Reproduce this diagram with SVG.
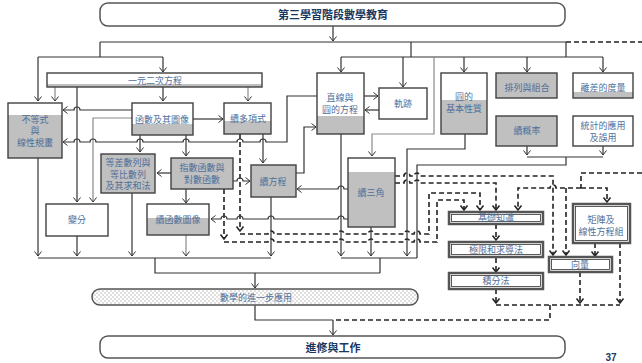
<svg xmlns="http://www.w3.org/2000/svg" width="642" height="363" viewBox="0 0 642 363">
<defs>
<marker id="a" viewBox="-6 -5 7 10" refX="0" refY="0" markerWidth="7" markerHeight="10" markerUnits="userSpaceOnUse" orient="auto"><path d="M-4.5,-3.5 L0,0 L-4.5,3.5" fill="none" stroke="#333" stroke-width="1"/></marker>
<marker id="ad" viewBox="-6 -5 7 10" refX="0" refY="0" markerWidth="7" markerHeight="10" markerUnits="userSpaceOnUse" orient="auto"><path d="M-4.5,-3.5 L0,0 L-4.5,3.5" fill="none" stroke="#222" stroke-width="1.5"/></marker>
<pattern id="dots" width="4" height="4" patternUnits="userSpaceOnUse"><rect width="4" height="4" fill="#fff"/><circle cx="1" cy="1" r="0.7" fill="#aaa"/><circle cx="3" cy="3" r="0.7" fill="#aaa"/></pattern>
</defs>
<style>
.bx{fill:none;stroke:#404040;stroke-width:1.4}
.w{fill:#fff}
.g{fill:#c0c0c0}
.t{font-family:"Liberation Sans","Noto Sans CJK TC",sans-serif;font-size:9px;fill:#4f6f9a;text-anchor:middle}
.h{font-family:"Liberation Sans","Noto Sans CJK TC",sans-serif;font-size:11px;font-weight:bold;fill:#17375e;text-anchor:middle}
.c path{fill:none;stroke:#333;stroke-width:1.2}
.c path.gr{stroke:#8a8a8a}
.c path.d{stroke:#222;stroke-width:1.6;stroke-dasharray:5 3}
.c path.m{marker-end:url(#a)}
.c path.d.m{marker-end:url(#ad)}
.o{fill:#fff;stroke:#555;stroke-width:2.5}
.i{fill:none;stroke:#333;stroke-width:0.8}
</style>

<g id="connectors" class="c">
<path class="m" d="M333,26 V41"/>
<path d="M100,42 H566"/>
<path class="d" d="M566,42 H642"/>
<path d="M100,42 V57 M38,57 H163"/>
<path class="m" d="M38,57 V101"/>
<path class="m" d="M163,57 V72"/>
<path d="M411,42 V57 M566,42 V57 M341,57 H603"/>
<path class="m" d="M341,57 V72"/>
<path class="m" d="M403,57 V87"/>
<path class="m" d="M464,57 V72"/>
<path class="m" d="M527,57 V72"/>
<path class="m" d="M603,57 V72"/>
<path class="m gr" d="M434,57 V134 H372 V156"/>
<path class="m gr" d="M55,87 V101"/>
<path class="m" d="M77,87 V202"/>
<path class="m" d="M163,87 V101"/>
<path class="m gr" d="M248,87 V101"/>
<path class="m" d="M132,110 H80 a3,3 0 0 0 -6,0 H63"/>
<path class="m gr" d="M132,118 H93 V202"/>
<path class="m" d="M193,119 H223"/>
<path class="m" d="M140,135 V152"/>
<path class="m" d="M186,135 V156"/>
<path class="m" d="M317,96 H287 V142 H266 a3,3 0 0 0 -6,0 H243 a3,3 0 0 0 -6,0 H189 a3,3 0 0 0 -6,0 H143 a3,3 0 0 0 -6,0 H96 a3,3 0 0 0 -6,0 H80 a3,3 0 0 0 -6,0 H63"/>
<path class="m" d="M364,96 H378"/>
<path class="m" d="M379,110 H365"/>
<path class="m" d="M296,173 H304 V127 H316"/>
<path class="m" d="M263,134 V163"/>
<path class="d m" d="M240,134 V231"/>
<path class="d m" d="M224,189 V239"/>
<path class="d m" d="M240,234 H268 a3,3 0 0 1 6,0 H338 a3,3 0 0 1 6,0 H368 a3,3 0 0 1 6,0 H404 a3,3 0 0 1 6,0 H414 a3,3 0 0 1 6,0 H429 V193 H480 V210"/>
<path class="d m" d="M224,242 H268 a3,3 0 0 1 6,0 H338 a3,3 0 0 1 6,0 H368 a3,3 0 0 1 6,0 H404 a3,3 0 0 1 6,0 H414 a3,3 0 0 1 6,0 H437 V200 H464 V210"/>
<path class="m" d="M233,181 H237 a3,3 0 0 1 6,0 H250"/>
<path class="m" d="M186,189 V203"/>
<path class="m" d="M171,173 H157"/>
<path class="m" d="M348,189 H344 a3,3 0 0 0 -6,0 H297"/>
<path class="m" d="M348,219 H344 a3,3 0 0 0 -6,0 H274 a3,3 0 0 0 -6,0 H243 a3,3 0 0 0 -6,0 H227 a3,3 0 0 0 -6,0 H211"/>
<path class="m" d="M38,158 V256"/>
<path class="m" d="M77,236 V256"/>
<path class="m" d="M132,193 V256"/>
<path class="m gr" d="M186,235 V256"/>
<path class="m" d="M271,197 V256"/>
<path class="m" d="M341,134 V256"/>
<path class="m" d="M371,227 V256"/>
<path class="m" d="M465,134 V149 H407 V256"/>
<path d="M38,258 H271 M155,258 V273 H380 M341,258 H417 M380,258 V273"/>
<path class="m" d="M255,273 V288"/>
<path class="m" d="M527,146 V155"/>
<path class="m" d="M603,146 V155"/>
<path d="M527,157 H603 M566,157 V165 H417 V258"/>
<path class="d m" d="M395,176 H404 a3,3 0 0 1 6,0 H414 a3,3 0 0 1 6,0 H553 V255"/>
<path class="d m" d="M395,183 H404 a3,3 0 0 1 6,0 H414 a3,3 0 0 1 6,0 H496 V210"/>
<path class="d" d="M642,173 H581 V188"/>
<path class="d m" d="M581,188 H556 a3,3 0 0 0 -6,0 H518 V210"/>
<path class="d m" d="M581,188 H607 V202"/>
<path class="d m" d="M566,188 V255"/>
<path class="d m" d="M496,224 V240"/>
<path class="d m" d="M496,258 V272"/>
<path class="d m" d="M496,289 V303"/>
<path class="d m" d="M580,272 V303"/>
<path class="d m" d="M620,243 V303"/>
<path class="d m" d="M595,243 V256"/>
<path class="d" d="M496,305 H620 M550,305 V320 H333"/>
<path d="M255,305 V320 H333"/>
<path class="m" d="M333,320 V335"/>
</g>

<g id="top"><rect x="100" y="3" width="465" height="23" rx="8" class="w" stroke="#555" stroke-width="1.5"/><text class="h" x="333" y="19">第三學習階段數學教育</text></g>
<g id="bottom"><rect x="100" y="336" width="465" height="22" rx="8" class="w" stroke="#555" stroke-width="1.5"/><text class="h" x="333" y="352" font-size="10.5">進修與工作</text></g>
<g id="further"><rect x="92" y="289" width="326" height="16" rx="8" fill="url(#dots)" stroke="#555" stroke-width="1.5"/><text class="t" x="256" y="301">數學的進一步應用</text></g>

<g id="n1"><rect x="47" y="73" width="215" height="14" class="w"/><rect x="47" y="84" width="215" height="3" class="g"/><rect x="47" y="73" width="215" height="14" class="bx"/><text class="t" x="155" y="84">一元二次方程</text></g>
<g id="n2"><rect x="8" y="103" width="54" height="55" class="w"/><rect x="8" y="115" width="54" height="43" class="g"/><rect x="8" y="103" width="54" height="55" class="bx"/><text class="t" x="35" y="123">不等式</text><text class="t" x="35" y="134">與</text><text class="t" x="35" y="146">線性規畫</text></g>
<g id="n3"><rect x="132" y="103" width="61" height="32" class="w"/><rect x="132" y="124" width="61" height="11" class="g"/><rect x="132" y="103" width="61" height="32" class="bx"/><text class="t" x="162" y="123">函數及其圖像</text></g>
<g id="n4"><rect x="224" y="103" width="47" height="31" class="w"/><rect x="224" y="121" width="47" height="13" class="g"/><rect x="224" y="103" width="47" height="31" class="bx"/><text class="t" x="248" y="122">續多項式</text></g>
<g id="n5"><rect x="317" y="73" width="47" height="61" class="w"/><rect x="317" y="116" width="47" height="18" class="g"/><rect x="317" y="73" width="47" height="61" class="bx"/><text class="t" x="340" y="101">直線與</text><text class="t" x="340" y="113">圓的方程</text></g>
<g id="n6"><rect x="379" y="88" width="48" height="31" class="w bx"/><text class="t" x="403" y="107">軌跡</text></g>
<g id="n7"><rect x="441" y="73" width="46" height="61" class="w"/><rect x="441" y="100" width="46" height="34" class="g"/><rect x="441" y="73" width="46" height="61" class="bx"/><text class="t" x="464" y="100">圓的</text><text class="t" x="464" y="112">基本性質</text></g>
<g id="n8"><rect x="496" y="73" width="61" height="25" class="g bx"/><text class="t" x="527" y="91">排列與組合</text></g>
<g id="n9"><rect x="496" y="116" width="61" height="30" class="g bx"/><text class="t" x="527" y="134">續概率</text></g>
<g id="n10"><rect x="573" y="73" width="60" height="25" class="w"/><rect x="573" y="92" width="60" height="6" class="g"/><rect x="573" y="73" width="60" height="25" class="bx"/><text class="t" x="603" y="91">離差的度量</text></g>
<g id="n11"><rect x="573" y="116" width="60" height="30" class="w bx"/><text class="t" x="603" y="129">統計的應用</text><text class="t" x="603" y="141">及誤用</text></g>
<g id="n12"><rect x="101" y="154" width="54" height="39" class="g bx"/><text class="t" x="128" y="166">等差數列與</text><text class="t" x="128" y="178">等比數列</text><text class="t" x="128" y="189">及其求和法</text></g>
<g id="n13"><rect x="171" y="158" width="62" height="31" class="g bx"/><text class="t" x="202" y="171">指數函數與</text><text class="t" x="202" y="183">對數函數</text></g>
<g id="n14"><rect x="46" y="204" width="62" height="32" class="w bx"/><text class="t" x="77" y="223">變分</text></g>
<g id="n15"><rect x="147" y="204" width="62" height="31" class="w"/><rect x="147" y="218" width="62" height="17" class="g"/><rect x="147" y="204" width="62" height="31" class="bx"/><text class="t" x="178" y="223">續函數圖像</text></g>
<g id="n16"><rect x="251" y="165" width="45" height="32" class="g bx"/><text class="t" x="273" y="185">續方程</text></g>
<g id="n17"><rect x="348" y="158" width="47" height="69" class="w"/><rect x="348" y="172" width="47" height="55" class="g"/><rect x="348" y="158" width="47" height="69" class="bx"/><text class="t" x="371" y="196">續三角</text></g>
<g id="n18"><rect x="449" y="212" width="94" height="12" class="o"/><rect x="451.5" y="214.5" width="89" height="7" class="i"/><text class="t" x="496" y="221">基礎知識</text></g>
<g id="n19"><rect x="449" y="242" width="94" height="15" class="o"/><rect x="451.5" y="244.5" width="89" height="10" class="i"/><text class="t" x="496" y="253">極限和求導法</text></g>
<g id="n20"><rect x="449" y="273" width="94" height="16" class="o"/><rect x="451.5" y="275.5" width="89" height="11" class="i"/><text class="t" x="496" y="284">積分法</text></g>
<g id="n21"><rect x="573" y="204" width="57" height="39" class="o"/><rect x="575.5" y="206.5" width="52" height="34" class="i"/><text class="t" x="601" y="223">矩陣及</text><text class="t" x="601" y="235">線性方程組</text></g>
<g id="n22"><rect x="549" y="257" width="63" height="15" class="o" stroke="#888"/><rect x="551.5" y="259.5" width="58" height="10" class="i"/><text class="t" x="580" y="268">向量</text></g>
<text x="611" y="361" font-family="Liberation Sans,sans-serif" font-size="10" font-weight="bold" fill="#1f3864" text-anchor="middle">37</text>
</svg>
